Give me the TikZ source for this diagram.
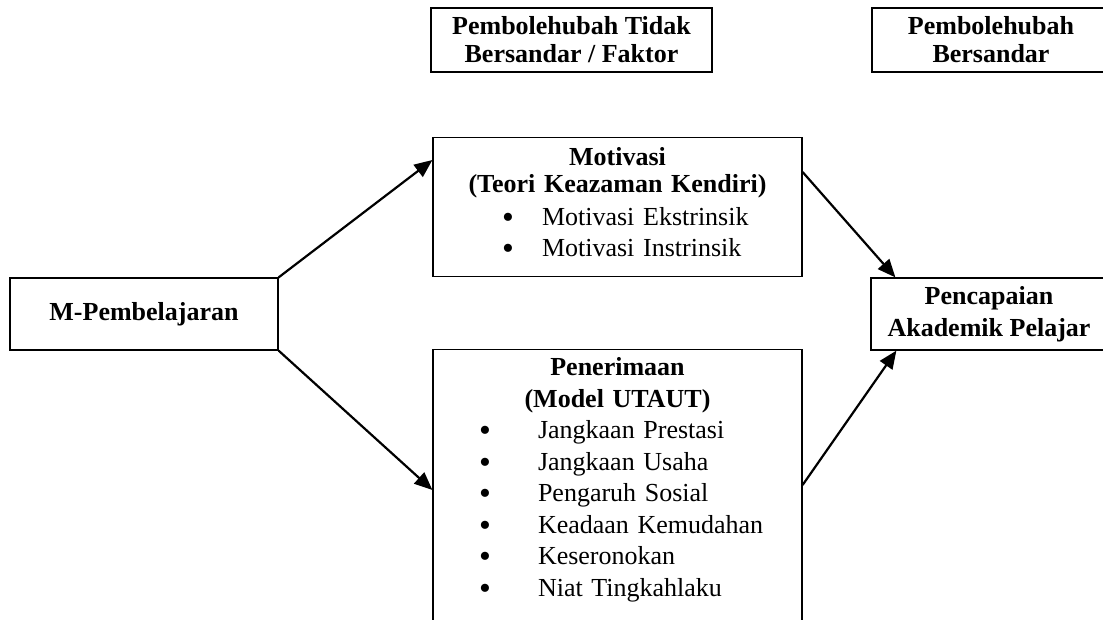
\documentclass[tikz,border=0pt]{standalone}
\usepackage{fontspec}
\usepackage{graphicx}
\setmainfont{Liberation Serif}
\usetikzlibrary{arrows.meta, positioning}

% bullet line: bullet offset, gap to text, text
\newcommand{\itm}[3]{\makebox[\linewidth][l]{\hspace*{#1}%
  \rlap{\raisebox{-3pt}{\scalebox{1.3}{\textbullet}}}\hspace*{#2}#3}}

\begin{document}
\begin{tikzpicture}[
  x=1pt, y=-1pt,
  box/.style={draw, line width=1.2pt, inner xsep=0pt, align=center,
    font=\fontsize{26}{31}\selectfont},
  head/.style={box, font=\fontsize{26}{28}\selectfont\bfseries},
  conn/.style={line width=2.2pt, -{Triangle[length=18pt,width=15pt]}}]

  \clip (0,0) rectangle (1103,619);

  % column headings
  \node[head, minimum width=281pt, minimum height=64pt] (bebas) at (571.5,40)
    {Pembolehubah Tidak\\Bersandar / Faktor};
  \node[head, minimum width=238pt, minimum height=64pt] (sandar) at (991,40)
    {Pembolehubah\\Bersandar};

  \node[head, minimum width=268pt, minimum height=72pt] (mpem) at (144,314)
    {M-Pembelajaran};
  \node[head, minimum width=236pt, minimum height=72pt] (capai) at (989,314)
    {Pencapaian\\[4pt]Akademik Pelajar};

  \node[box, anchor=north, text width=369pt, inner ysep=10pt]
    (motivasi) at (617.5,137)
    {\textbf{Motivasi}\\[-4pt]
     \textbf{(Teori Keazaman Kendiri)}\\[2pt]
     \itm{69pt}{40pt}{Motivasi Ekstrinsik}\\
     \itm{69pt}{40pt}{Motivasi Instrinsik}\rule[-10pt]{0pt}{10pt}};

  \node[box, anchor=north, text width=369pt, inner ysep=8pt,
    font=\fontsize{26}{31.5}\selectfont]
    (penerimaan) at (617.5,349)
    {\textbf{Penerimaan}\\
     \textbf{(Model UTAUT)}\\
     \itm{46pt}{59pt}{Jangkaan Prestasi}\\
     \itm{46pt}{59pt}{Jangkaan Usaha}\\
     \itm{46pt}{59pt}{Pengaruh Sosial}\\
     \itm{46pt}{59pt}{Keadaan Kemudahan}\\
     \itm{46pt}{59pt}{Keseronokan}\\
     \itm{46pt}{59pt}{Niat Tingkahlaku}\rule[-60pt]{0pt}{60pt}};

  \draw[conn] (mpem.north east) -- ([yshift=-23pt]motivasi.north west);
  \draw[conn] (mpem.south east) -- ([yshift=-141pt]penerimaan.north west);
  \draw[conn] ([yshift=-35pt]motivasi.north east) -- ([xshift=25pt]capai.north west);
  \draw[conn] ([yshift=-136pt]penerimaan.north east) -- ([xshift=26pt]capai.south west);
\end{tikzpicture}
\end{document}
